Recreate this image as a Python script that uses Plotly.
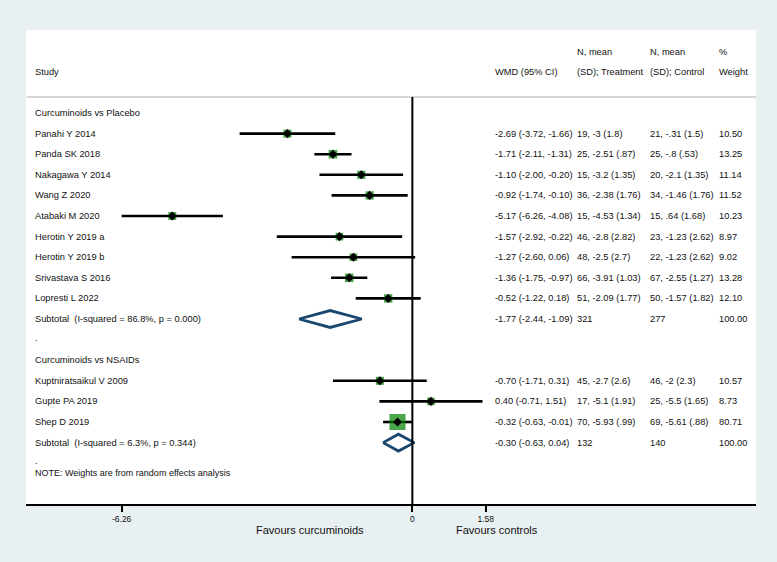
import plotly.graph_objects as go

# ---------------- data ----------------
groups = ["Curcuminoids vs Placebo", "Curcuminoids vs NSAIDs"]

studies_g1 = ["Panahi Y 2014", "Panda SK 2018", "Nakagawa Y 2014", "Wang Z 2020",
              "Atabaki M 2020", "Herotin Y 2019 a", "Herotin Y 2019 b",
              "Srivastava S 2016", "Lopresti L 2022"]
wmd_g1 = [-2.69, -1.71, -1.10, -0.92, -5.17, -1.57, -1.27, -1.36, -0.52]
lo_g1 = [-3.72, -2.11, -2.00, -1.74, -6.26, -2.92, -2.60, -1.75, -1.22]
hi_g1 = [-1.66, -1.31, -0.20, -0.10, -4.08, -0.22, 0.06, -0.97, 0.18]
treat_g1 = ["19, -3 (1.8)", "25, -2.51 (.87)", "15, -3.2 (1.35)", "36, -2.38 (1.76)",
            "15, -4.53 (1.34)", "46, -2.8 (2.82)", "48, -2.5 (2.7)",
            "66, -3.91 (1.03)", "51, -2.09 (1.77)"]
ctrl_g1 = ["21, -.31 (1.5)", "25, -.8 (.53)", "20, -2.1 (1.35)", "34, -1.46 (1.76)",
           "15, .64 (1.68)", "23, -1.23 (2.62)", "22, -1.23 (2.62)",
           "67, -2.55 (1.27)", "50, -1.57 (1.82)"]
weight_g1 = [10.50, 13.25, 11.14, 11.52, 10.23, 8.97, 9.02, 13.28, 12.10]

studies_g2 = ["Kuptniratsaikul V 2009", "Gupte PA 2019", "Shep D 2019"]
wmd_g2 = [-0.70, 0.40, -0.32]
lo_g2 = [-1.71, -0.71, -0.63]
hi_g2 = [0.31, 1.51, -0.01]
treat_g2 = ["45, -2.7 (2.6)", "17, -5.1 (1.91)", "70, -5.93 (.99)"]
ctrl_g2 = ["46, -2 (2.3)", "25, -5.5 (1.65)", "69, -5.61 (.88)"]
weight_g2 = [10.57, 8.73, 80.71]

sub_labels = ["Subtotal\u00a0\u00a0(I-squared = 86.8%, p = 0.000)",
              "Subtotal\u00a0\u00a0(I-squared = 6.3%, p = 0.344)"]
sub_est = [-1.77, -0.30]
sub_lo = [-2.44, -0.63]
sub_hi = [-1.09, 0.04]
sub_nt = ["321", "132"]
sub_nc = ["277", "140"]
sub_w = ["100.00", "100.00"]

tick_vals = [-6.26, 0, 1.58]
tick_text = ["-6.26", "0", "1.58"]
favours = ["Favours curcuminoids", "Favours controls"]
note = "NOTE: Weights are from random effects analysis"

# ---------------- layout of rows ----------------
rows_g1 = list(range(1, 1 + len(studies_g1)))
sub_row1 = rows_g1[-1] + 1
dot_row1 = sub_row1 + 1
head_row2 = dot_row1 + 1
rows_g2 = list(range(head_row2 + 1, head_row2 + 1 + len(studies_g2)))
sub_row2 = rows_g2[-1] + 1
dot_row2 = sub_row2 + 1
note_row = dot_row2 + 0.48
sub_rows = [sub_row1, sub_row2]
head_rows = [0, head_row2]

studies = studies_g1 + studies_g2
wmd = wmd_g1 + wmd_g2
lo = lo_g1 + lo_g2
hi = hi_g1 + hi_g2
treat = treat_g1 + treat_g2
ctrl = ctrl_g1 + ctrl_g2
weights = weight_g1 + weight_g2
rows = rows_g1 + rows_g2

FONT = "Liberation Sans, Arial, Helvetica, sans-serif"
FS = 9.3
TXT = "#111111"
GREEN = "#008000"
NAVY = "#1a476f"

fig = go.Figure()

# CI lines
cx, cy = [], []
for l, h, r in zip(lo, hi, rows):
    cx += [l, h, None]
    cy += [r, r, None]
fig.add_trace(go.Scatter(x=cx, y=cy, mode="lines",
                         line=dict(color="black", width=2.6),
                         hoverinfo="skip", showlegend=False))

# weight boxes
fig.add_trace(go.Scatter(x=wmd, y=rows, mode="markers",
                         marker=dict(symbol="square", color=GREEN,
                                     size=[3.5 + 1.4 * w ** 0.5 for w in weights],
                                     line=dict(width=0)),
                         hoverinfo="skip", showlegend=False))
# point estimates
fig.add_trace(go.Scatter(x=wmd, y=rows, mode="markers",
                         marker=dict(symbol="diamond", color="black", size=7,
                                     line=dict(width=0)),
                         hoverinfo="skip", showlegend=False))

# subtotal diamonds
HALF = 0.41
for e, l, h, r in zip(sub_est, sub_lo, sub_hi, sub_rows):
    fig.add_trace(go.Scatter(x=[l, e, h, e, l], y=[r, r - HALF, r, r + HALF, r],
                             mode="lines", line=dict(color=NAVY, width=2.8),
                             hoverinfo="skip", showlegend=False))

ann = []
def txt(x, y, s, size=FS, xref="paper", yref="y", xanchor="left"):
    ann.append(dict(x=x, y=y, xref=xref, yref=yref, text=s, showarrow=False,
                    xanchor=xanchor, yanchor="middle",
                    font=dict(family=FONT, size=size, color=TXT)))

XL, XW, XT, XC, XP = 0.0096, 0.6395, 0.752, 0.852, 0.9465

# header
txt(XT, -2.96, "N, mean"); txt(XC, -2.96, "N, mean"); txt(XP, -2.96, "%")
txt(XL, -1.99, "Study"); txt(XW, -1.99, "WMD (95% CI)")
txt(XT, -1.99, "(SD); Treatment"); txt(XC, -1.99, "(SD); Control"); txt(XP, -1.99, "Weight")

for g, r in zip(groups, head_rows):
    txt(XL, r, g)
for s, e, l, h, t, c, w, r in zip(studies, wmd, lo, hi, treat, ctrl, weights, rows):
    txt(XL, r, s)
    txt(XW, r, f"{e:.2f} ({l:.2f}, {h:.2f})")
    txt(XT, r, t); txt(XC, r, c); txt(XP, r, f"{w:.2f}")
for s, e, l, h, nt, nc, w, r in zip(sub_labels, sub_est, sub_lo, sub_hi, sub_nt, sub_nc, sub_w, sub_rows):
    txt(XL, r, s)
    txt(XW, r, f"{e:.2f} ({l:.2f}, {h:.2f})")
    txt(XT, r, nt); txt(XC, r, nc); txt(XP, r, w)
txt(XL, dot_row1 - 0.1, ".")
txt(XL, dot_row2 - 0.1, ".")
txt(XL, note_row, note, size=9)

# favours labels
ann.append(dict(x=-2.21, y=-0.054, xref="x", yref="paper", text=favours[0],
                showarrow=False, xanchor="center", yanchor="middle",
                font=dict(family=FONT, size=11, color=TXT)))
ann.append(dict(x=1.82, y=-0.054, xref="x", yref="paper", text=favours[1],
                showarrow=False, xanchor="center", yanchor="middle",
                font=dict(family=FONT, size=11, color=TXT)))

shapes = [
    dict(type="line", xref="paper", yref="y", x0=0.001, x1=1, y0=-0.78, y1=-0.78,
         line=dict(color="#c8c8c8", width=1.5)),
    dict(type="line", xref="x", yref="paper", x0=0, x1=0, y0=0, y1=(18.98 + 0.78) / 23.01,
         line=dict(color="black", width=2)),
]

fig.update_layout(
    width=777, height=562,
    margin=dict(l=26, r=21, t=30, b=58),
    paper_bgcolor="#e8f0f2", plot_bgcolor="white",
    annotations=ann, shapes=shapes, showlegend=False,
    xaxis=dict(range=[-8.32, 7.40], showgrid=False, zeroline=False,
               showline=True, linecolor="black", linewidth=2,
               ticks="outside", ticklen=6, tickwidth=1.5, tickcolor="black",
               tickvals=tick_vals, ticktext=tick_text,
               tickfont=dict(family=FONT, size=8.5, color=TXT), fixedrange=True),
    yaxis=dict(range=[18.98, -4.03], visible=False, fixedrange=True),
)

fig.write_html("out.html", config={"displayModeBar": False},
               post_script="document.body.style.margin='0';")
